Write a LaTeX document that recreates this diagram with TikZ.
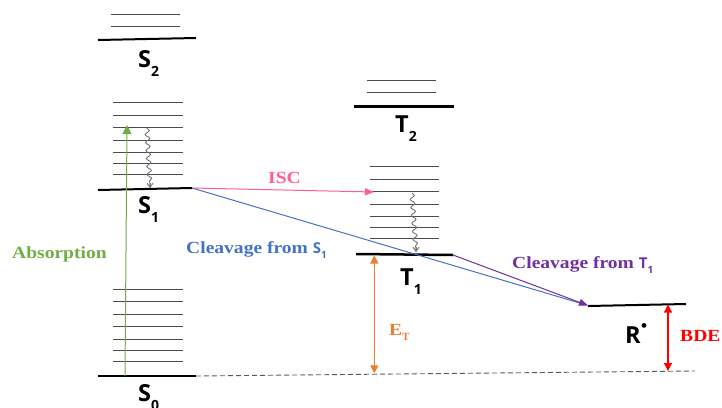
\documentclass[tikz,border=0pt]{standalone}
\usepackage{fontspec}
\setmainfont{Liberation Serif}
\newfontfamily\labfont{Open Sans}
\usepackage{graphicx}
\usetikzlibrary{arrows.meta,decorations.pathmorphing,calc}
\definecolor{cgreen}{HTML}{70AD47}
\definecolor{cpink}{HTML}{FF5C99}
\definecolor{cblue}{HTML}{4472C4}
\definecolor{cpurple}{HTML}{7030A0}
\definecolor{corange}{HTML}{ED7D31}
\definecolor{cred}{HTML}{FF0000}
\newcommand{\stretchx}[1]{\scalebox{1.15}[1]{#1}}
\newcommand{\statelab}[2]{{\labfont\bfseries\fontsize{23.5}{23.5}\selectfont #1}\raisebox{-9pt}{\labfont\bfseries\fontsize{14}{14}\selectfont #2}}
\newcommand{\smallstate}[2]{{\labfont\bfseries\fontsize{15}{15}\selectfont #1}\raisebox{-5pt}{\labfont\bfseries\fontsize{10}{10}\selectfont #2}}
\begin{document}
\begin{tikzpicture}[x=1pt,y=-1pt,
  lvl/.style={line width=2pt, black},
  vib/.style={line width=0.8pt, black!70},
  wavy/.style={black!55, line width=0.9pt, decorate, decoration={snake, amplitude=2.2pt, segment length=8pt, post length=5pt}},
  wavyarr/.style={black!55, line width=0.9pt, -{Straight Barb[length=4pt,width=6pt]}},
  lab/.style={inner sep=0pt, anchor=base west},
  clab/.style={inner sep=0pt, anchor=base west, font=\bfseries\fontsize{17}{17}\selectfont}]
\useasboundingbox (0,0) rectangle (722,407);
% coordinates of levels
\coordinate (s2l) at (98,40); \coordinate (s2r) at (196,38);
\coordinate (s1l) at (98,190); \coordinate (s1r) at (192,188);
\coordinate (s0l) at (98,376); \coordinate (s0r) at (196,376);
\coordinate (t2l) at (354,106); \coordinate (t2r) at (454,106);
\coordinate (t1l) at (356,254); \coordinate (t1r) at (453,255);
\coordinate (rl) at (588,306); \coordinate (rr) at (686,304);
\coordinate (dashend) at (695,371);
% vibrational levels
\foreach \y in {14,26} \draw[vib] (110.7,\y) -- (180,\y);
\foreach \y in {102.3,115,127.3,140,152.3,163.3,174.3} \draw[vib] (113,\y) -- (183,\y);
\foreach \y in {289.3,301.7,314.3,326.7,339.3,350.7,361.7} \draw[vib] (113,\y) -- (183,\y);
\foreach \y in {80,92.3} \draw[vib] (367,\y) -- (436,\y);
\foreach \y in {166.7,179,191.7,204,216,227.3,238.7} \draw[vib] (370,\y) -- (439,\y);
% main levels
\draw[lvl] (s2l) -- (s2r);
\draw[lvl] (s1l) -- (s1r);
\draw[lvl] (s0l) -- (s0r);
\draw[lvl, line width=3pt] (t2l) -- (t2r);
\draw[lvl, line width=2.5pt] (t1l) -- (t1r);
\draw[lvl] (rl) -- (rr);
\draw[black!65, line width=0.9pt, dash pattern=on 5pt off 3pt] (s0r) -- (dashend);
% state labels
\node[lab] (S2) at (138,67) {\statelab{S}{2}};
\node[lab] (S1) at (138,213) {\statelab{S}{1}};
\node[lab] (S0) at (138,401) {\statelab{S}{0}};
\node[lab] (T2) at (395,132) {\statelab{T}{2}};
\node[lab] (T1) at (400,285) {\statelab{T}{1}};
\node[lab] (R) at (625,343) {{\labfont\bfseries\fontsize{23.5}{23.5}\selectfont R}\raisebox{11pt}{\fontsize{20}{20}\selectfont\textbullet}};
% absorption
\coordinate (absb) at (125,376); \coordinate (abst) at (127,125);
\draw[cgreen, line width=1pt, -{Triangle[length=9pt,width=9pt]}] (absb) -- (abst);
\node[clab, text=cgreen] (abslab) at (12,258.3) {\stretchx{Absorption}};
% internal conversion wavy arrows
\coordinate (ws1a) at (147,128); \coordinate (ws1b) at (150,188);
\draw[wavy] (ws1a) -- (ws1b);
\draw[wavyarr] ($(ws1b)+(0,-5)$) -- (ws1b);
\coordinate (wt1a) at (412,193); \coordinate (wt1b) at (416,252);
\draw[wavy] (wt1a) -- (wt1b);
\draw[wavyarr] ($(wt1b)+(0,-5)$) -- (wt1b);
% ISC
\coordinate (iscend) at (374,192);
\draw[cpink, line width=1pt, -{Triangle[length=9pt,width=7pt]}] (s1r) -- (iscend);
\node[clab, text=cpink] (isclab) at (268,183) {\stretchx{ISC}};
% cleavage from S1
\coordinate (rtip) at (588,305.5);
\draw[cblue, line width=1pt] (s1r) -- ($(rtip)+(-4,-1.2)$);
\node[clab, text=cblue] (cs1lab) at (186,253) {\stretchx{Cleavage from }\smallstate{S}{1}};
% cleavage from T1
\draw[cpurple, line width=1pt, -{Triangle[length=9pt,width=7pt]}] (t1r) -- (rtip);
\node[clab, text=cpurple] (ct1lab) at (512,268.3) {\stretchx{Cleavage from }\smallstate{T}{1}};
% E_T
\coordinate (etb) at (374.3,373.3); \coordinate (ett) at (374.3,255.5);
\draw[corange, line width=1.2pt, {Triangle[length=8pt,width=8pt]}-{Triangle[length=8pt,width=8pt]}] (ett) -- (etb);
\node[clab, text=corange] (etlab) at (389,335) {\stretchx{E}\raisebox{-5pt}{\fontsize{11}{11}\selectfont T}};
% BDE
\coordinate (bdet) at (668,304.5); \coordinate (bdeb) at (668,371);
\draw[cred, line width=1.2pt, {Triangle[length=8pt,width=8pt]}-{Triangle[length=8pt,width=8pt]}] (bdet) -- (bdeb);
\node[clab, text=cred] (bdelab) at (680,341.7) {\stretchx{BDE}};
\end{tikzpicture}
\end{document}
